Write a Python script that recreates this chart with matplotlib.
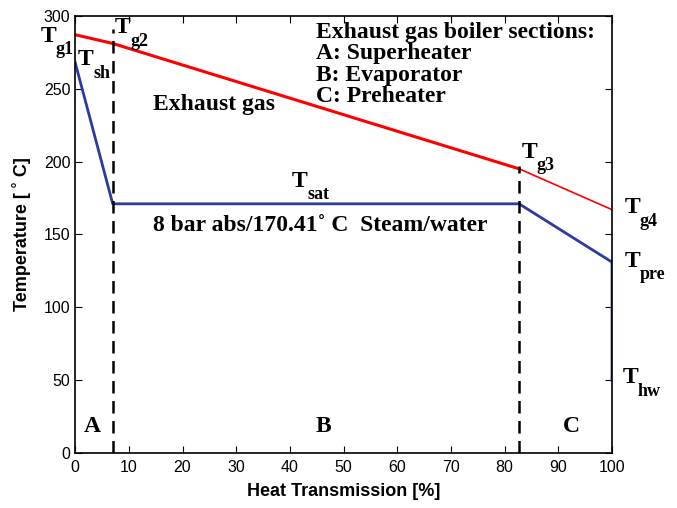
import matplotlib.pyplot as plt

# data
gas_x = [0, 7.0, 82.7]
gas_y = [287, 281, 195]
gas2_x = [82.7, 100]
gas2_y = [195, 167]
water_x = [0, 7.0, 82.7, 100, 100]
water_y = [268, 171, 171, 131, 50]
sec_x = [7.0, 82.7]
sec_top = [291, 197]

fig = plt.figure(figsize=(6.77, 5.08), dpi=100)
ax = fig.add_axes([0.111, 0.108, 0.793, 0.861])

ax.plot(gas_x, gas_y, color='#ff0000', lw=2.2)
ax.plot(gas2_x, gas2_y, color='#ff0000', lw=1.2)
ax.plot(water_x, water_y, color='#2b3aa0', lw=2.0)
for x, t in zip(sec_x, sec_top):
    ax.plot([x, x], [0, t], color='black', ls=(0, (5, 3)), lw=1.8)

ax.set_xlim(0, 100)
ax.set_ylim(0, 300)
ax.set_xticks(range(0, 101, 10))
ax.set_yticks(range(0, 301, 50))
ax.tick_params(direction='in', top=True, right=True, labelsize=11.5, length=5)
ax.tick_params(axis='x', pad=5)
for s in ax.spines.values():
    s.set_linewidth(1.2)

ax.set_xlabel('Heat Transmission [%]', fontsize=13, fontweight='bold',
              family='Liberation Sans', labelpad=6)
ax.set_ylabel('Temperature [ ˚ C]', fontsize=13, fontweight='bold',
              family='Liberation Sans', labelpad=9)
for lab in ax.get_xticklabels() + ax.get_yticklabels():
    lab.set_family('Liberation Sans')

serif = dict(family='Liberation Serif', fontweight='bold', fontsize=17, va='baseline')
ax.text(44.9, 284.8, 'Exhaust gas boiler sections:', **serif)
ax.text(44.9, 270.2, 'A: Superheater', **serif)
ax.text(44.9, 255.5, 'B: Evaporator', **serif)
ax.text(44.9, 240.7, 'C: Preheater', **serif)
ax.text(14.5, 235.4, 'Exhaust gas', **serif)
ax.text(14.5, 152.4, '8 bar abs/170.41˚ C  Steam/water', **serif)
ax.text(3.2, 14.4, 'A', ha='center', **serif)
ax.text(46.2, 14.4, 'B', ha='center', **serif)
ax.text(92.5, 14.4, 'C', ha='center', **serif)

# temperature labels: T with a large, low subscript
labs = [(-6.5, 282, 'g1'), (7.45, 288, 'g2'), (0.56, 266, 'sh'), (40.4, 182.6, 'sat'),
        (83.2, 202.5, 'g3'), (102.4, 164.7, 'g4'), (102.4, 127.7, 'pre'), (102.0, 48, 'hw')]
for x, y, sub in labs:
    ax.text(x, y, 'T', family='Liberation Serif', fontweight='bold', fontsize=17,
            va='baseline', clip_on=False)
    ax.annotate(sub, xy=(x, y), xytext=(10.8, -9.0), textcoords='offset points',
                family='Liberation Serif', fontweight='bold', fontsize=13,
                va='baseline', annotation_clip=False)

fig.savefig('out.png', dpi=100)
